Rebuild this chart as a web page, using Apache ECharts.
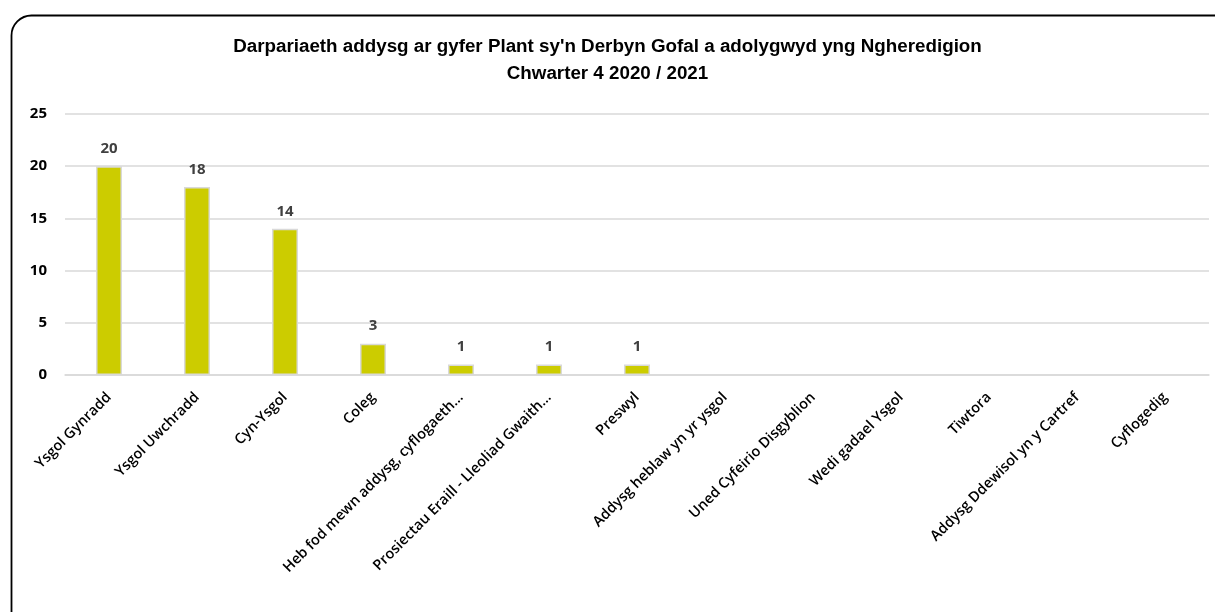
<!DOCTYPE html>
<html><head><meta charset="utf-8">
<script src="https://cdn.jsdelivr.net/npm/echarts@6/dist/echarts.min.js"></script>
<style>html,body{margin:0;padding:0;background:#fff;}#c{width:1215px;height:612px;}</style>
</head><body><div id="c"></div>
<script>
const titleLines = ["Darpariaeth addysg ar gyfer Plant sy'n Derbyn Gofal a adolygwyd yng Ngheredigion", "Chwarter 4 2020 / 2021"];
const categories = ["Ysgol Gynradd", "Ysgol Uwchradd", "Cyn-Ysgol", "Coleg", "Heb fod mewn addysg, cyflogaeth...", "Prosiectau Eraill - Lleoliad Gwaith...", "Preswyl", "Addysg heblaw yn yr ysgol", "Uned Cyfeirio Disgyblion", "Wedi gadael Ysgol", "Tiwtora", "Addysg Ddewisol yn y Cartref", "Cyflogedig"];
const values = [20, 18, 14, 3, 1, 1, 1, null, null, null, null, null, null];
const yTicks = [0, 5, 10, 15, 20, 25];

const chart = echarts.init(document.getElementById('c'));
chart.setOption({
  animation: false,
  title: {
    text: titleLines.join('\n'),
    left: 'center', top: 28,
    textStyle: {fontFamily: 'Liberation Sans, Arial', fontSize: 18.8, fontWeight: 'bold', color: '#000', lineHeight: 27}
  },
  graphic: [{
    type: 'rect', left: 9, top: 13,
    shape: {width: 1240, height: 640, r: 20},
    style: {fill: 'none', stroke: '#000', lineWidth: 1.8},
    silent: true
  }],
  grid: {left: 65, right: 6, top: 114, bottom: 237, containLabel: false},
  xAxis: {
    type: 'category', data: categories,
    axisLine: {lineStyle: {color: '#d9d9d9', width: 1.5}},
    axisTick: {show: false},
    axisLabel: {interval: 0, rotate: 45, margin: 20, color: '#000', fontFamily: 'Open Sans, Liberation Sans', fontSize: 14.5, fontWeight: 600}
  },
  yAxis: {
    type: 'value', min: yTicks[0], max: yTicks[yTicks.length - 1], interval: 5,
    axisLine: {show: false}, axisTick: {show: false},
    splitLine: {lineStyle: {color: '#d9d9d9', width: 1.5}},
    axisLabel: {margin: 18, color: '#000', fontFamily: 'Open Sans, Liberation Sans', fontSize: 15, fontWeight: 'bold'}
  },
  series: [{
    type: 'bar', data: values, barWidth: 26,
    itemStyle: {color: '#cccc00', borderColor: '#d9d9d9', borderWidth: 1.5},
    label: {show: true, position: 'top', distance: 10, color: '#404040', fontFamily: 'Open Sans, Liberation Sans', fontSize: 15, fontWeight: 'bold'}
  }]
});
</script></body></html>
